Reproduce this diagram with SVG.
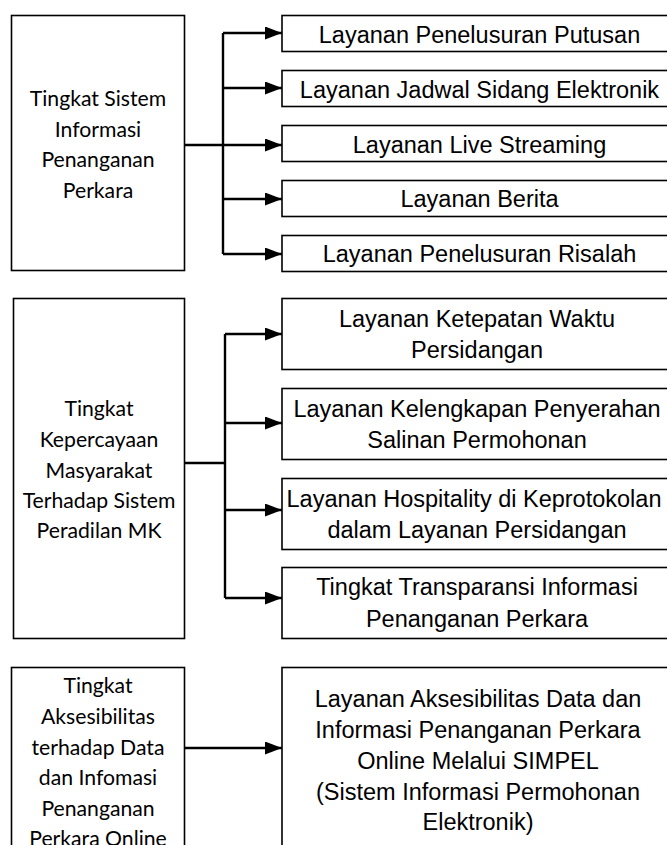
<svg xmlns="http://www.w3.org/2000/svg" width="667" height="845" viewBox="0 0 667 845">
<style>
.box{fill:#fff;stroke:#000;stroke-width:1.6}
.l{font-family:Lato,"Open Sans",sans-serif;font-size:21.2px;fill:#000;text-anchor:middle}
.r{font-family:"Liberation Sans",Arial,sans-serif;font-size:23.5px;fill:#000;text-anchor:middle}
.c{fill:none;stroke:#000;stroke-width:2.4}
.a{fill:none;stroke:#000;stroke-width:2.4;marker-end:url(#ah)}
</style>
<defs>
<marker id="ah" markerUnits="userSpaceOnUse" markerWidth="17" markerHeight="13" refX="17" refY="6.5" orient="auto">
<path d="M0,0 L17,6.5 L0,13 z" fill="#000"/>
</marker>
</defs>
<rect width="667" height="845" fill="#fff"/>

<g id="n1">
<rect class="box" x="11.5" y="15.5" width="173" height="255"/>
<text class="l" x="98" y="106">Tingkat Sistem</text>
<text class="l" x="98" y="137">Informasi</text>
<text class="l" x="98" y="167">Penanganan</text>
<text class="l" x="98" y="198">Perkara</text>
</g>
<g id="n1a"><rect class="box" x="282" y="15.5" width="400" height="36"/><text class="r" x="479.5" y="43">Layanan Penelusuran Putusan</text></g>
<g id="n1b"><rect class="box" x="282" y="70.5" width="400" height="36"/><text class="r" x="479.5" y="98">Layanan Jadwal Sidang Elektronik</text></g>
<g id="n1c"><rect class="box" x="282" y="125.5" width="400" height="36"/><text class="r" x="479.5" y="153">Layanan Live Streaming</text></g>
<g id="n1d"><rect class="box" x="282" y="180.5" width="400" height="36"/><text class="r" x="479.5" y="207">Layanan Berita</text></g>
<g id="n1e"><rect class="box" x="282" y="235.5" width="400" height="36"/><text class="r" x="479.5" y="262">Layanan Penelusuran Risalah</text></g>

<g id="n2">
<rect class="box" x="13.5" y="298.5" width="171" height="340"/>
<text class="l" x="99" y="416">Tingkat</text>
<text class="l" x="99" y="447">Kepercayaan</text>
<text class="l" x="99" y="478">Masyarakat</text>
<text class="l" x="99" y="508">Terhadap Sistem</text>
<text class="l" x="99" y="538">Peradilan MK</text>
</g>
<g id="n2a"><rect class="box" x="282" y="298.5" width="400" height="71"/><text class="r" x="477" y="327">Layanan Ketepatan Waktu</text><text class="r" x="477" y="358">Persidangan</text></g>
<g id="n2b"><rect class="box" x="282" y="388.5" width="400" height="71"/><text class="r" x="477" y="417">Layanan Kelengkapan Penyerahan</text><text class="r" x="477" y="448">Salinan Permohonan</text></g>
<g id="n2c"><rect class="box" x="282" y="478.5" width="400" height="71"/><text class="r" x="474" y="507">Layanan Hospitality di Keprotokolan</text><text class="r" x="477" y="538">dalam Layanan Persidangan</text></g>
<g id="n2d"><rect class="box" x="282" y="567.5" width="400" height="71"/><text class="r" x="477" y="595">Tingkat Transparansi Informasi</text><text class="r" x="477" y="627">Penanganan Perkara</text></g>

<g id="n3">
<rect class="box" x="11.5" y="667.5" width="173" height="200"/>
<text class="l" x="98" y="693">Tingkat</text>
<text class="l" x="98" y="724">Aksesibilitas</text>
<text class="l" x="98" y="755">terhadap Data</text>
<text class="l" x="98" y="785">dan Infomasi</text>
<text class="l" x="98" y="816">Penanganan</text>
<text class="l" x="98" y="846">Perkara Online</text>
</g>
<g id="n3a">
<rect class="box" x="282" y="667.5" width="400" height="200"/>
<text class="r" x="478" y="707">Layanan Aksesibilitas Data dan</text>
<text class="r" x="478" y="738">Informasi Penanganan Perkara</text>
<text class="r" x="478" y="769">Online Melalui SIMPEL</text>
<text class="r" x="478" y="800">(Sistem Informasi Permohonan</text>
<text class="r" x="478" y="830">Elektronik)</text>
</g>

<g id="connectors">
<path class="c" d="M185,145 H223 M223,33 V254"/>
<path class="a" d="M223,33 H282"/>
<path class="a" d="M223,88 H282"/>
<path class="a" d="M223,145 H282"/>
<path class="a" d="M223,199 H282"/>
<path class="a" d="M223,254 H282"/>
<path class="c" d="M185,463 H225 M225,334 V598"/>
<path class="a" d="M225,334 H282"/>
<path class="a" d="M225,423 H282"/>
<path class="a" d="M225,510 H282"/>
<path class="a" d="M225,598 H282"/>
<path class="a" d="M185,748 H282"/>
</g>
</svg>
